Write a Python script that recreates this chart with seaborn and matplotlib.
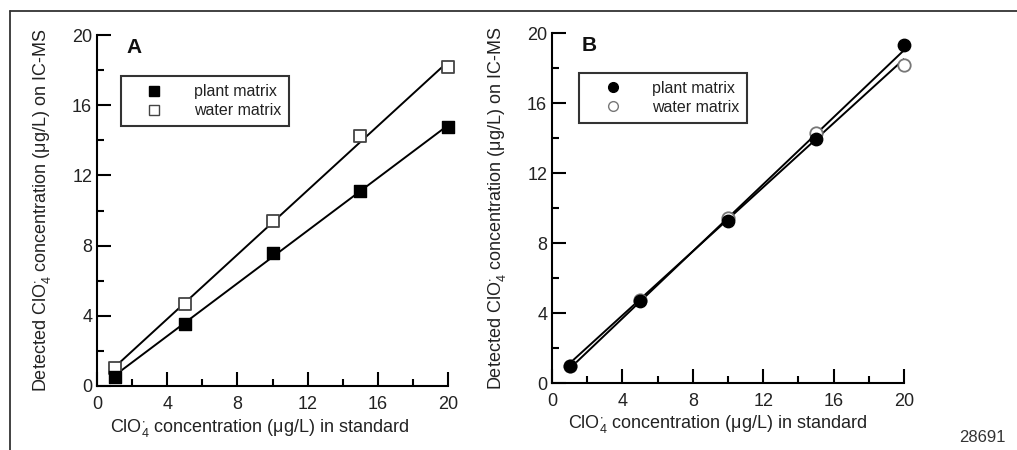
import numpy as np
import pandas as pd
import matplotlib
matplotlib.use("Agg")
import matplotlib.pyplot as plt
from matplotlib.lines import Line2D
import seaborn as sns

# ---- data ----
std_conc = [1, 5, 10, 15, 20]
a_plant = [0.5, 3.55, 7.6, 11.1, 14.75]
a_water = [1.0, 4.65, 9.4, 14.25, 18.2]
b_plant = [0.95, 4.7, 9.25, 13.95, 19.3]
b_water = [1.0, 4.75, 9.45, 14.3, 18.2]
series_labels = ["plant matrix", "water matrix"]
ticks = [0, 4, 8, 12, 16, 20]
minor_ticks = [2, 6, 10, 14, 18]
panel_labels = ["A", "B"]
ylabel = "Detected ClO$_4^{\\cdot}$ concentration (\u03bcg/L) on IC-MS"
xlabel = "ClO$_4^{\\cdot}$ concentration (\u03bcg/L) in standard"
fig_code = "28691"

sns.set_theme(style="ticks")
plt.rcParams["font.family"] = ["Liberation Sans", "DejaVu Sans"]
plt.rcParams["mathtext.default"] = "regular"

fig = plt.figure(figsize=(10.17, 4.5), dpi=100)
axA = fig.add_axes([97 / 1017, 1 - 386 / 450, 351 / 1017, 351 / 450])
axB = fig.add_axes([552 / 1017, 1 - 383 / 450, 352 / 1017, 350 / 450])

dfA = pd.DataFrame({"x": std_conc, "plant": a_plant, "water": a_water})
dfB = pd.DataFrame({"x": std_conc, "plant": b_plant, "water": b_water})

line_kws = dict(color="black", lw=1.4)

def draw(ax, df, marker, size, water_edge, xlab_pos, label, leg_anchor):
    sns.regplot(data=df, x="x", y="water", ax=ax, ci=None, scatter=False,
                line_kws=line_kws)
    sns.regplot(data=df, x="x", y="plant", ax=ax, ci=None, scatter=False,
                line_kws=line_kws)
    sns.scatterplot(data=df, x="x", y="water", ax=ax, marker=marker, s=size,
                    facecolor="white", edgecolor=water_edge, linewidth=1.3,
                    clip_on=False, zorder=3)
    sns.scatterplot(data=df, x="x", y="plant", ax=ax, marker=marker, s=size,
                    color="black", edgecolor="black", linewidth=1.0,
                    clip_on=False, zorder=4)
    ax.set_xlim(0, 20)
    ax.set_ylim(0, 20)
    ax.set_xticks(ticks)
    ax.set_yticks(ticks)
    ax.set_xticks(minor_ticks, minor=True)
    ax.set_yticks(minor_ticks, minor=True)
    ax.tick_params(which="major", direction="in", length=10, width=1.5,
                   color="black", labelsize=13, labelcolor="#222222")
    ax.tick_params(which="minor", direction="in", length=5, width=1.5,
                   color="black")
    ax.tick_params(axis="x", which="major", pad=7)
    for s in ["top", "right"]:
        ax.spines[s].set_visible(False)
    for s in ["left", "bottom"]:
        ax.spines[s].set_color("black")
        ax.spines[s].set_linewidth(1.5)
    ax.set_ylabel(ylabel, fontsize=13, color="#222222")
    ax.set_xlabel(xlabel, fontsize=13, color="#222222")
    ax.yaxis.set_label_coords(-0.125, 0.5)
    ax.xaxis.set_label_coords(xlab_pos, -0.087)
    ax.text(0.085, 0.965, label, transform=ax.transAxes, fontsize=15,
            fontweight="bold", family=["Liberation Sans Narrow", "Liberation Sans"],
            va="center", ha="left", color="#111111")
    handles = [
        Line2D([], [], ls="none", marker=marker, markersize=7,
               markerfacecolor="black", markeredgecolor="black"),
        Line2D([], [], ls="none", marker=marker, markersize=7,
               markerfacecolor="white", markeredgecolor=water_edge,
               markeredgewidth=1.0),
    ]
    leg = ax.legend(handles, series_labels, loc="upper left",
                    bbox_to_anchor=leg_anchor, frameon=True, fancybox=False,
                    fontsize=11.5, handletextpad=0.85, borderpad=0.5,
                    labelspacing=0.25, handlelength=3.2, borderaxespad=0)
    leg.get_frame().set_edgecolor("black")
    leg.get_frame().set_linewidth(1.5)
    for t in leg.get_texts():
        t.set_color("#222222")

draw(axA, dfA, "s", 80, "#444444", 0.464, panel_labels[0], (0.068, 0.882))
draw(axB, dfB, "o", 80, "#777777", 0.469, panel_labels[1], (0.077, 0.886))

fig.add_artist(Line2D([10 / 1017, 1], [1 - 11 / 450, 1 - 11 / 450],
                      transform=fig.transFigure, color="#333333", lw=1.3))
fig.add_artist(Line2D([10 / 1017, 10 / 1017], [0, 1 - 11 / 450],
                      transform=fig.transFigure, color="#333333", lw=1.3))

fig.text(982 / 1017, 1 - 437 / 450, fig_code, ha="center", va="center",
         fontsize=12, family=["Liberation Sans Narrow", "Liberation Sans"],
         color="#333333")

fig.savefig("out.png", dpi=100)
